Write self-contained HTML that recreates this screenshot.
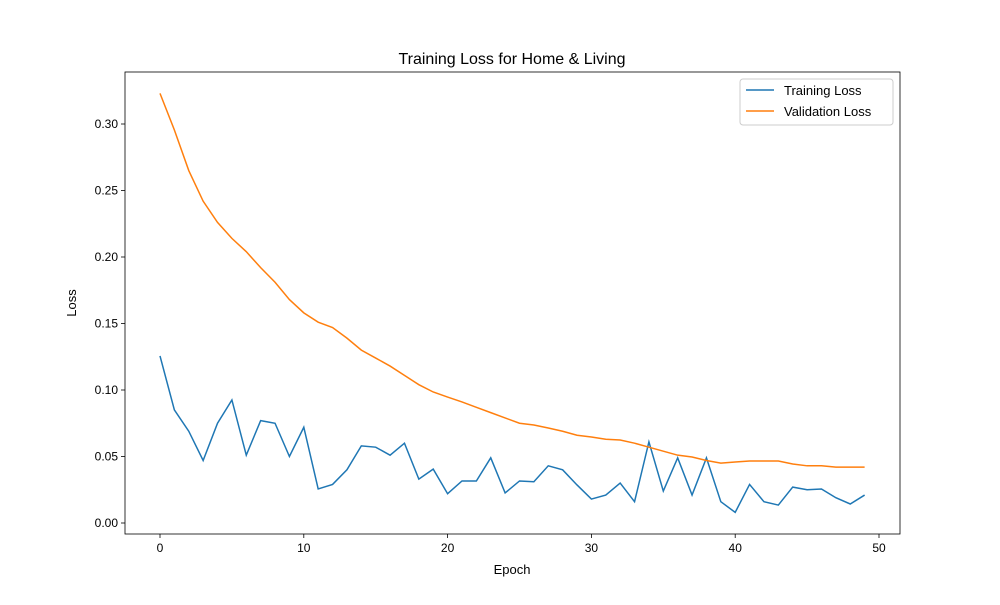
<!DOCTYPE html>
<html><head><meta charset="utf-8"><style>body{margin:0;background:#fff}svg{font-family:"Liberation Sans","DejaVu Sans",sans-serif}</style></head>
<body>
<svg id="chart" width="1000" height="600" xmlns="http://www.w3.org/2000/svg"></svg>
<script>
const epochs=[...Array(50).keys()];
const trainLoss=[0.1256,0.085,0.069,0.047,0.075,0.0925,0.051,0.077,0.075,0.050,0.072,0.0256,0.029,0.040,0.058,0.057,0.051,0.060,0.033,0.0405,0.022,0.0316,0.0316,0.049,0.0226,0.0316,0.031,0.043,0.040,0.0286,0.018,0.021,0.030,0.016,0.061,0.024,0.049,0.021,0.049,0.016,0.008,0.029,0.016,0.0135,0.027,0.025,0.0256,0.019,0.0143,0.021];
const valLoss=[0.323,0.2955,0.265,0.242,0.226,0.214,0.204,0.192,0.181,0.168,0.158,0.151,0.147,0.139,0.130,0.124,0.118,0.111,0.104,0.0985,0.0947,0.091,0.087,0.083,0.079,0.075,0.0737,0.0714,0.069,0.066,0.0647,0.063,0.0624,0.060,0.057,0.054,0.051,0.0496,0.047,0.045,0.0459,0.0466,0.0466,0.0466,0.0444,0.043,0.043,0.042,0.042,0.042];
const xTicks=[0,10,20,30,40,50];
const yTicks=[0,0.05,0.10,0.15,0.20,0.25,0.30];
const svg=document.getElementById('chart');
const NS='http://www.w3.org/2000/svg';
const L=125,R=900,T=72,B=534;
const xs=v=>160+(v-0)*(879-160)/50;
const ys=v=>523-v*(523-124)/0.30;
function mk(tag,attrs,text){const e=document.createElementNS(NS,tag);for(const k in attrs)e.setAttribute(k,attrs[k]);if(text!=null)e.textContent=text;svg.appendChild(e);return e;}
let e;
e=mk('rect',{x:L,y:T,width:R-L,height:B-T,fill:'none',stroke:'#000','stroke-width':0.8});


xTicks.forEach(t=>{
 e=mk('line',{x1:xs(t),x2:xs(t),y1:B,y2:B+4,stroke:'#000','stroke-width':0.8});
 
 
 e=mk('text',{x:xs(t),y:B+18,'font-size':12,'text-anchor':'middle'},String(t));
 
 
});
yTicks.forEach(t=>{
 e=mk('line',{x1:L-4,x2:L,y1:ys(t),y2:ys(t),stroke:'#000','stroke-width':0.8});
 
 
 e=mk('text',{x:L-7,y:ys(t)+4,'font-size':12,'text-anchor':'end'},t.toFixed(2));
 
 
});
function line(data,color,name){
 e=mk('polyline',{points:data.map((v,i)=>xs(epochs[i])+','+ys(v)).join(' '),fill:'none',stroke:color,'stroke-width':1.5});
 
 
}
line(trainLoss,'#1f77b4','training-loss-line');
line(valLoss,'#ff7f0e','validation-loss-line');
e=mk('text',{x:512,y:64,'font-size':16,'text-anchor':'middle'},'Training Loss for Home & Living');


e=mk('text',{x:512,y:574,'font-size':13,'text-anchor':'middle'},'Epoch');


e=mk('text',{x:76,y:303,'font-size':13,'text-anchor':'middle',transform:'rotate(-90 76 303)'},'Loss');


e=mk('rect',{x:740,y:79,width:153,height:46,rx:3,fill:'#fff',stroke:'#ccc','stroke-width':1});


[['Training Loss','#1f77b4',90],['Validation Loss','#ff7f0e',111]].forEach(([n,c,y])=>{
 e=mk('line',{x1:746,x2:774,y1:y,y2:y,stroke:c,'stroke-width':1.5});
 
 
 e=mk('text',{x:784,y:y+5,'font-size':13},n);
 
 
});
</script>
</body></html>
